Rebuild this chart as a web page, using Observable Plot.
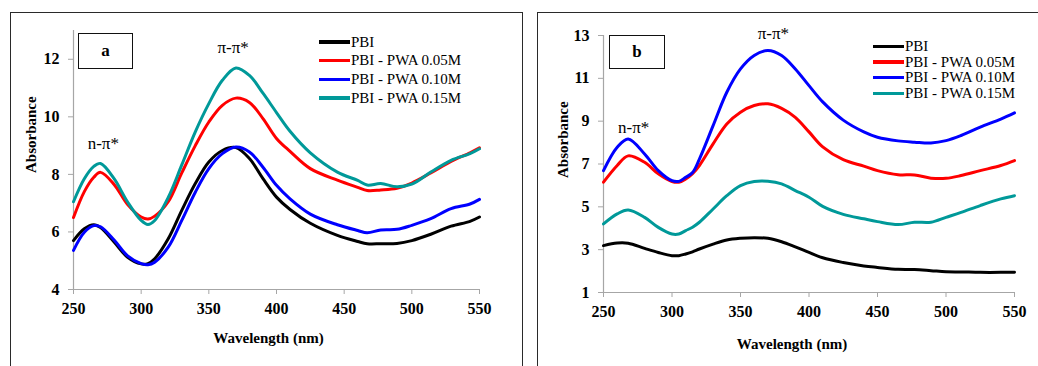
<!DOCTYPE html>
<html>
<head>
<meta charset="utf-8">
<script src="https://cdn.jsdelivr.net/npm/d3@7"></script>
<script src="https://cdn.jsdelivr.net/npm/@observablehq/plot@0.6"></script>
<style>
  html, body { margin: 0; padding: 0; background: #fff; }
  body { position: relative; width: 1038px; height: 366px; overflow: hidden; font-family: "Liberation Serif", "Times New Roman", serif; }
  .chart { position: absolute; top: 0; }
  .frame { position: absolute; border: 1.5px solid #2a2a2a; box-sizing: border-box; pointer-events: none; }
  .tag { position: absolute; border: 1.5px solid #111; box-sizing: border-box; background: #fff; display: flex; align-items: center; justify-content: center; font-weight: bold; font-size: 17px; color: #000; }
  .legend { position: absolute; }
  .row { position: absolute; left: 0; display: flex; align-items: center; white-space: nowrap; font-size: 15px; color: #000; }
  .swatch { width: 31px; height: 3.5px; margin-right: 1px; }
</style>
</head>
<body>
<script>
// ---------- data ----------
const seriesNames  = ["PBI", "PBI - PWA 0.05M", "PBI - PWA 0.10M", "PBI - PWA 0.15M"];
const seriesColors = ["#000000", "#ff0000", "#0000ff", "#009999"];
const xTicks  = [250, 300, 350, 400, 450, 500, 550];
const yTicksA = [4, 6, 8, 10, 12];
const yTicksB = [1, 3, 5, 7, 9, 11, 13];
const xTitle = "Wavelength (nm)";
const yTitle = "Absorbance";

// panel (a)
const wavelengthA = [250,258,265,270,280,290,300,305,310,320,330,340,350,360,370,380,390,400,410,425,445,460,467,477,489,500,514,529,543,550];
const pbiA     = [5.70,6.11,6.25,6.15,5.65,5.12,4.89,4.90,5.07,5.76,6.75,7.68,8.43,8.83,8.93,8.55,7.85,7.21,6.78,6.30,5.88,5.67,5.59,5.59,5.60,5.70,5.92,6.20,6.37,6.52];
const pwa005A  = [6.50,7.40,7.90,8.07,7.65,6.95,6.52,6.45,6.55,7.05,8.05,9.00,9.82,10.40,10.65,10.50,9.94,9.25,8.80,8.20,7.80,7.55,7.44,7.46,7.52,7.70,8.05,8.45,8.75,8.92];
const pwa010A  = [5.36,5.99,6.22,6.18,5.72,5.17,4.90,4.86,4.95,5.47,6.40,7.38,8.20,8.72,8.95,8.78,8.25,7.62,7.15,6.62,6.25,6.05,5.97,6.07,6.09,6.23,6.46,6.81,6.97,7.13];
const pwa015A  = [7.05,7.85,8.28,8.38,7.85,7.04,6.40,6.26,6.40,7.20,8.33,9.48,10.46,11.27,11.70,11.44,10.82,10.15,9.50,8.75,8.08,7.79,7.63,7.68,7.57,7.66,8.08,8.49,8.72,8.89];

// panel (b)
const wavelengthB = [250,260,268,280,290,300,305,310,315,320,330,340,350,360,370,380,390,400,410,425,440,450,465,477,489,500,511,525,540,550];
const pbiB     = [3.19,3.31,3.30,3.06,2.87,2.72,2.72,2.80,2.90,3.03,3.26,3.45,3.53,3.56,3.53,3.37,3.13,2.87,2.62,2.40,2.24,2.17,2.08,2.07,2.02,1.97,1.96,1.94,1.94,1.95];
const pwa005B  = [6.15,6.93,7.38,7.08,6.54,6.18,6.15,6.30,6.55,6.93,7.94,8.87,9.42,9.73,9.81,9.60,9.18,8.50,7.80,7.20,6.90,6.69,6.50,6.49,6.34,6.33,6.46,6.69,6.93,7.16];
const pwa010B  = [6.69,7.78,8.17,7.47,6.69,6.22,6.19,6.38,6.60,7.23,8.79,10.35,11.44,12.07,12.30,12.07,11.44,10.66,9.90,9.05,8.50,8.25,8.08,8.02,7.98,8.09,8.33,8.72,9.10,9.39];
const pwa015B  = [4.20,4.67,4.85,4.51,4.04,3.73,3.73,3.89,4.05,4.28,4.90,5.52,5.99,6.18,6.19,6.07,5.76,5.45,5.02,4.65,4.44,4.31,4.17,4.28,4.28,4.51,4.74,5.06,5.37,5.52];

// annotations: label, anchor wavelength, grid wavelength of the peak they sit above
const annLabels   = ["n-π*", "π-π*"];
const annXA       = [272, 368];
const annRefXA    = [270, 370];
const annXB       = [272, 374];
const annRefXB    = [268, 370];

// ---------- build ----------
function longTable(wl, seriesVals) {
  return seriesNames.flatMap((name, i) => wl.map((w, j) => ({wl: w, abs: seriesVals[i][j], series: name})));
}
function annTable(xs, refXs, wl, ref) {
  return annLabels.map((label, i) => ({label, wl: xs[i], abs: ref[wl.indexOf(refXs[i])]}));
}

const dataA = longTable(wavelengthA, [pbiA, pwa005A, pwa010A, pwa015A]);
const dataB = longTable(wavelengthB, [pbiB, pwa005B, pwa010B, pwa015B]);
const annA = annTable(annXA, annRefXA, wavelengthA, pwa015A);
const annB = annTable(annXB, annRefXB, wavelengthB, pwa010B);

const serif = "Liberation Serif, Times New Roman, serif";
const axisGray = "#a6a6a6";

function panel({data, ann, width, height, margins, yDomain, yTicks, annDy, xTitleOff, yTitleOff}) {
  return Plot.plot({
    width, height,
    marginLeft: margins[0], marginRight: margins[1], marginTop: margins[2], marginBottom: margins[3],
    style: {fontFamily: serif, background: "transparent", color: "#000", overflow: "visible"},
    x: {domain: [250, 550]},
    y: {domain: yDomain},
    color: {domain: seriesNames, range: seriesColors},
    marks: [
      Plot.ruleX([250], {stroke: axisGray, strokeWidth: 1.2}),
      Plot.ruleY([yDomain[0]], {stroke: axisGray, strokeWidth: 1.2}),
      Plot.axisY({ticks: yTicks, tickSize: 5, tickPadding: 9, stroke: axisGray, fontSize: 16, fontWeight: "bold", label: null}),
      Plot.axisX({ticks: xTicks, tickSize: 5, tickPadding: 8, stroke: axisGray, fontSize: 16, fontWeight: "bold", label: null}),
      Plot.text([yTitle], {frameAnchor: "left", text: d => d, rotate: -90, dx: yTitleOff[0], dy: yTitleOff[1], fontSize: 15, fontWeight: "bold", fill: "#000"}),
      Plot.text([xTitle], {frameAnchor: "bottom", text: d => d, dx: xTitleOff[0], dy: xTitleOff[1], fontSize: 15, fontWeight: "bold", fill: "#000"}),
      Plot.line(data, {x: "wl", y: "abs", z: "series", stroke: "series", strokeWidth: 3, curve: "catmull-rom"}),
      Plot.text(ann.slice(0, 1), {x: "wl", y: "abs", text: "label", dy: annDy[0], fontSize: 17, fill: "#000"}),
      Plot.text(ann.slice(1), {x: "wl", y: "abs", text: "label", dy: annDy[1], fontSize: 17, fill: "#000"})
    ]
  });
}

function place(el, left) {
  const wrap = document.createElement("div");
  wrap.className = "chart";
  wrap.style.left = left + "px";
  wrap.appendChild(el);
  document.body.appendChild(wrap);
}

place(panel({data: dataA, ann: annA, width: 530, height: 366, margins: [73, 51, 30, 77],
             yDomain: [4, 13], yTicks: yTicksA, annDy: [-20, -20], xTitleOff: [-8, 53], yTitleOff: [-42, 13]}), 0);
place(panel({data: dataB, ann: annB, width: 508, height: 366, margins: [73, 24, 35, 74],
             yDomain: [1, 13], yTicks: yTicksB, annDy: [-11, -17], xTitleOff: [-17, 56], yTitleOff: [-40, 14]}), 530);

function addDiv(cls, css, html) {
  const d = document.createElement("div");
  d.className = cls;
  Object.assign(d.style, css);
  if (html !== undefined) d.innerHTML = html;
  document.body.appendChild(d);
  return d;
}

// outer frames
addDiv("frame", {left: "10px", top: "12px", width: "513px", height: "400px"});
addDiv("frame", {left: "537px", top: "12px", width: "520px", height: "400px"});

// panel tags
addDiv("tag", {left: "78px", top: "33px", width: "55px", height: "36px"}, "a");
addDiv("tag", {left: "609px", top: "35px", width: "56px", height: "34px"}, "b");

// legends
function legend(left, top, spacing) {
  const lg = addDiv("legend", {left: left + "px", top: top + "px"});
  seriesNames.forEach((name, i) => {
    const r = document.createElement("div");
    r.className = "row";
    r.style.top = (i * spacing) + "px";
    r.style.height = "18px";
    const sw = document.createElement("span");
    sw.className = "swatch";
    sw.style.background = seriesColors[i];
    const t = document.createElement("span");
    t.textContent = name;
    r.appendChild(sw); r.appendChild(t);
    lg.appendChild(r);
  });
}
legend(319, 33, 18.7);
legend(873, 37.5, 15.6);
</script>
</body>
</html>
